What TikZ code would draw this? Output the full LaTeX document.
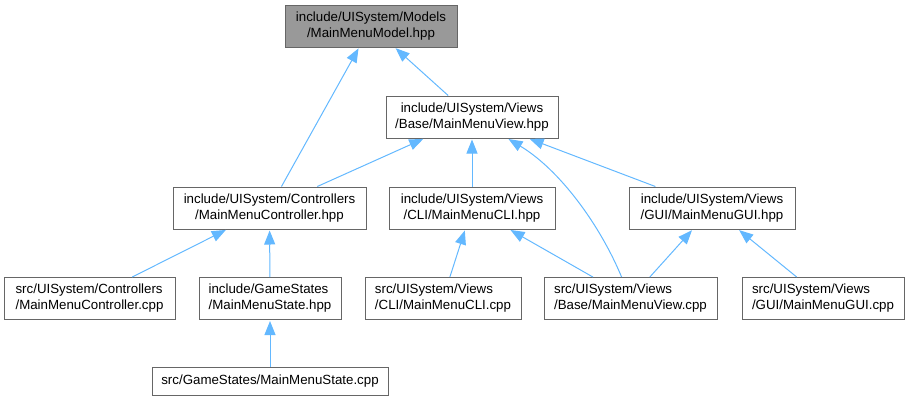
\documentclass[tikz,border=0pt]{standalone}
\usepackage{fontspec}
\setmainfont{Liberation Sans}
\usetikzlibrary{arrows.meta}
\definecolor{edgeblue}{HTML}{63B8FF}
\definecolor{boxgray}{HTML}{666666}
\definecolor{mainfill}{HTML}{999999}
\begin{document}
\begin{tikzpicture}[x=1pt,y=-1pt,
  box/.style={draw=boxgray, line width=1pt, fill=white, inner sep=0pt,
    font=\fontsize{13.3}{16}\selectfont, text=black, minimum height=42pt, align=center},
  lbox/.style={box, align=left},
  dep/.style={draw=edgeblue, line width=1pt, -{Triangle[length=14pt,width=11pt]}, shorten >=1pt}]
\useasboundingbox (0,0) rectangle (910,400);
\node[box, fill=mainfill, minimum width=172pt] (model) at (371,26) {include/UISystem/Models\\/MainMenuModel.hpp};
\node[box, minimum width=172pt] (viewh) at (472,117) {include/UISystem/Views\\/Base/MainMenuView.hpp};
\node[box, minimum width=193pt] (ctrlh) at (269.5,208) {include/UISystem/Controllers\\/MainMenuController.hpp};
\node[box, minimum width=166pt] (clih) at (472,208) {include/UISystem/Views\\/CLI/MainMenuCLI.hpp};
\node[box, minimum width=166pt] (guih) at (712,208) {include/UISystem/Views\\/GUI/MainMenuGUI.hpp};
\node[lbox, minimum width=171pt] (ctrlc) at (89.5,298.5) {src/UISystem/Controllers\\/MainMenuController.cpp};
\node[lbox, minimum width=142pt] (stateh) at (270,298.5) {include/GameStates\\/MainMenuState.hpp};
\node[lbox, minimum width=156pt] (clic) at (443,298.5) {src/UISystem/Views\\/CLI/MainMenuCLI.cpp};
\node[lbox, minimum width=173pt] (viewc) at (630.5,298.5) {src/UISystem/Views\\/Base/MainMenuView.cpp};
\node[lbox, minimum width=162pt] (guic) at (823,298.5) {src/UISystem/Views\\/GUI/MainMenuGUI.cpp};
\node[box, minimum width=236pt, minimum height=28pt] (statec) at (270,381) {src/GameStates/MainMenuState.cpp};
\draw[dep] (ctrlh) -- (model);
\draw[dep] (viewh) -- (model);
\draw[dep] (ctrlh) -- (viewh);
\draw[dep] (clih) -- (viewh);
\draw[dep] (viewc) .. controls (600,225) and (560,170) .. (viewh);
\draw[dep] (guih) -- (viewh);
\draw[dep] (ctrlc) -- (ctrlh);
\draw[dep] (stateh) -- (ctrlh);
\draw[dep] (statec) -- (stateh);
\draw[dep] (clic) -- (clih);
\draw[dep] (viewc) -- (clih);
\draw[dep] (viewc) -- (guih);
\draw[dep] (guic) -- (guih);
\end{tikzpicture}
\end{document}
